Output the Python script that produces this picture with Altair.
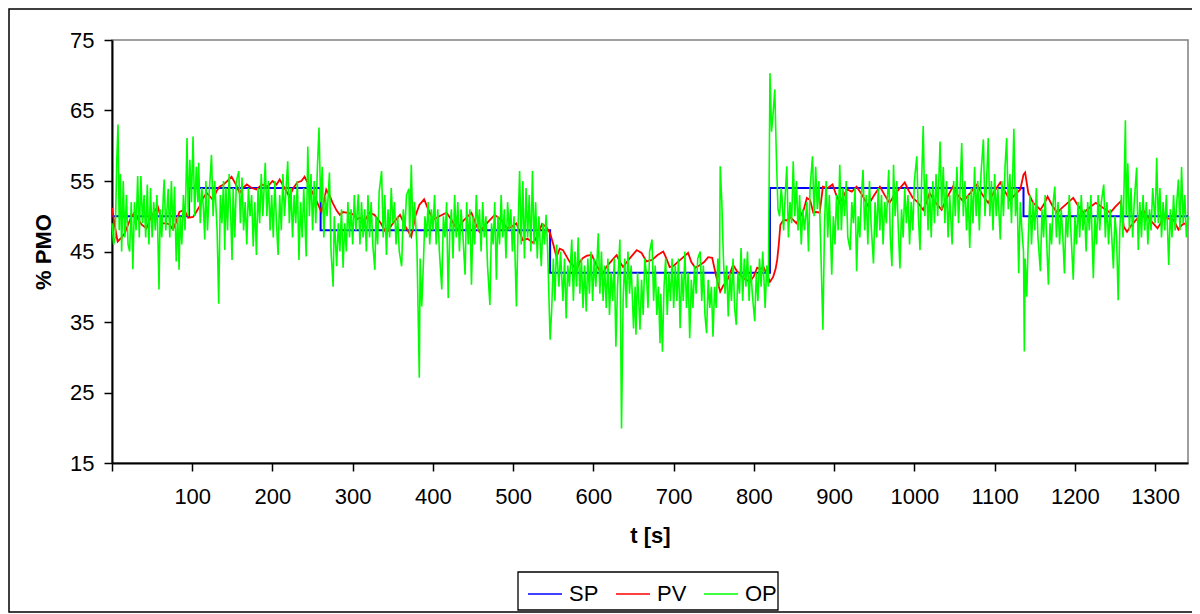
import altair as alt
import pandas as pd

# ---------------- data ----------------
sp_t = [0, 96, 260, 546, 820, 1136, 1341]
sp_v = [50, 54, 48, 42, 54, 50, 50]

pv_t = [0, 3, 7, 12, 16, 20, 24, 28, 33, 37, 43, 47, 52, 57, 63, 68, 72, 76, 80, 84,
        90, 95, 101, 105, 109, 113, 118, 122, 126, 130, 134, 139, 143, 149, 154, 159, 163, 168, 174, 180,
        187, 194, 200, 205, 209, 215, 221, 226, 231, 236, 240, 245, 250, 256, 261, 264, 267, 271, 275, 280,
        284, 288, 292, 300, 305, 309, 315, 321, 327, 335, 342, 350, 359, 366, 373, 378, 383, 389, 394, 400,
        408, 417, 423, 430, 438, 448, 453, 458, 467, 477, 485, 492, 498, 504, 508, 512, 518, 525, 530, 536,
        541, 546, 550, 554, 558, 562, 567, 571, 575, 579, 583, 587, 592, 598, 604, 611, 616, 622, 629, 633,
        637, 645, 654, 660, 666, 673, 680, 687, 691, 695, 700, 706, 712, 718, 722, 727, 732, 738, 743, 748,
        753, 758, 762, 766, 770, 774, 779, 785, 790, 795, 800, 804, 808, 812, 816, 820, 824, 827, 829, 831,
        833, 837, 841, 845, 849, 853, 858, 862, 866, 870, 874, 878, 882, 886, 892, 898, 902, 907, 911, 916,
        922, 928, 935, 942, 950, 957, 963, 969, 975, 982, 988, 993, 998, 1004, 1011, 1015, 1019, 1026, 1034, 1040,
        1048, 1054, 1061, 1069, 1078, 1085, 1092, 1099, 1107, 1113, 1119, 1125, 1132, 1136, 1138, 1142, 1148, 1152, 1157, 1162,
        1166, 1172, 1178, 1184, 1190, 1198, 1204, 1211, 1218, 1226, 1235, 1244, 1250, 1257, 1261, 1265, 1269, 1275, 1282, 1285,
        1290, 1296, 1303, 1307, 1310, 1316, 1323, 1329, 1331, 1336, 1341]
pv_v = [51.2, 49, 46.4, 47, 47.6, 48.8, 49.9, 50.5, 49.5, 48.8, 48.3, 49.5, 50.5, 51.4, 49, 49, 48.8, 48.1, 49.2, 50.6,
        50.9, 49.8, 49.9, 50.6, 51.4, 52.5, 53.3, 52.8, 52.3, 53.5, 54.2, 54.5, 54.9, 55.6, 54.6, 53.3, 54, 54.5, 54, 53.8,
        54.5, 54.2, 55, 54.5, 55.2, 54, 52.8, 54, 54.8, 55, 55.6, 54.5, 53.3, 51.9, 50.6, 52, 53.8, 53, 51.9, 50.8,
        50.2, 50.6, 50.5, 50.3, 49.6, 49.8, 49.4, 50.5, 50.2, 49, 47.6, 49, 50.2, 48.5, 47.1, 50, 51.6, 52.4, 51, 49.5,
        50, 50.5, 49.5, 48.1, 49.4, 50.5, 49, 47.8, 49, 50.2, 49.5, 48.3, 48.5, 49, 47.8, 46.6, 46.8, 46.2, 47.2, 48.9,
        48.5, 47.6, 46, 44.2, 45.4, 45.2, 44.2, 43.4, 43, 42.4, 43.5, 44.1, 44.4, 44.5, 43, 41.7, 42.8, 43.6, 44.5, 43.5,
        42.8, 44, 45.2, 44.8, 43.6, 43.8, 44.5, 45, 44, 42.8, 43, 43.6, 44.2, 44.8, 43.5, 42.7, 43, 43.5, 44.2, 44.1,
        41.5, 39.3, 40.2, 40.7, 41.8, 43.1, 42.2, 41.4, 41, 40.7, 41.5, 42.7, 42.5, 42.8, 41.8, 40.7, 41.4, 42.5, 43.8, 46,
        48.8, 49.5, 49.4, 49.9, 49.5, 49, 50, 50.9, 52.6, 52.3, 50.5, 50.6, 50.5, 54.2, 54, 54.5, 53.2, 51.9, 52.7, 53.8,
        53.5, 54.2, 53, 51.5, 53, 54.2, 53, 51.9, 53, 54, 54.8, 53.6, 52.6, 52, 50.9, 52, 53.3, 52, 50.9, 52.5,
        54.2, 53, 52.1, 53.2, 54.5, 53, 51.9, 53.4, 54.8, 53.5, 52.3, 53, 53.8, 55.9, 56.2, 53.3, 51.9, 51.5, 50.9, 51.8,
        52.8, 51.5, 50.5, 51.2, 51.8, 52.6, 51.5, 50.5, 51.2, 51.9, 51.2, 50.5, 51.3, 52.1, 48.5, 47.8, 48.5, 49.3, 50.2, 50.9,
        50, 49.2, 48.3, 49, 49.9, 49.7, 49.5, 48.1, 48.5, 49, 48.6]

op_t = [0, 2, 4, 6, 7.5, 9, 10.5, 12, 14, 16, 18, 20, 22, 24, 26, 28, 30, 32, 34, 36,
        38, 40, 42, 44, 46, 48, 50, 52, 54, 56, 58.6, 60, 62, 64, 65, 67, 70, 72, 74, 76,
        78, 80, 82, 83.6, 85, 87, 89, 91, 93.5, 95, 97, 99, 101, 103, 105, 107, 108, 110, 112, 114,
        115.6, 117, 119, 121, 124, 126, 128, 131, 133, 135, 137, 139, 140.5, 142, 144, 146, 148, 149.6, 151, 153,
        155, 158, 160, 162, 164, 166, 168, 170, 172, 174, 176, 178, 180, 182, 184, 186, 188, 191, 193, 195,
        197, 199, 201, 203, 205, 207, 209, 211, 213, 215, 217, 219, 221, 223, 225, 227, 229, 231, 233, 235,
        237, 239, 242, 244, 246, 248, 250, 252, 254, 256, 258, 260, 262, 264, 266, 268, 271, 273, 275.6, 277,
        280, 282, 284, 286, 288, 290, 292, 294, 296, 298, 300, 302, 304, 307, 309, 311, 313, 315, 317, 319,
        321, 323, 325, 327.6, 329, 331, 333, 336, 338, 340, 342, 344, 346, 348, 350, 352, 354, 356, 358, 361,
        363, 365, 367, 370, 371, 373, 375, 377, 380, 383, 384, 386, 388, 390, 392, 394, 396, 398, 400, 402,
        404, 406, 408, 411, 413, 415, 417, 419, 421, 423, 425, 427, 429, 431, 433, 435, 437, 440, 442, 444,
        446, 448, 450, 452, 454, 456, 458, 460, 462, 464, 466, 468, 471, 473, 475, 477, 479, 481, 483, 485,
        487, 489, 491, 493, 495, 497, 499, 501, 504, 506, 508, 510, 512, 514, 516, 518, 520, 522, 524, 526,
        528, 530, 532, 535, 537, 539, 541, 543, 546, 548, 550, 552, 554, 557, 559, 562, 564, 566, 568, 570,
        573, 575, 577, 579, 581, 583, 585, 587, 589, 591, 593, 595, 597, 599, 601, 603, 606, 608, 610, 612,
        614, 616, 618, 620, 622, 624, 626, 628, 630, 633, 635, 637, 639, 641, 643, 645, 647, 650, 652, 653,
        655, 658, 660, 662, 664, 666, 668, 670, 673, 675, 677, 679, 681, 683, 684, 686, 688, 690, 692, 694,
        696, 698, 700, 702, 704, 706, 708, 710, 712, 714, 716, 718, 720, 722, 724, 726, 728, 730, 733, 735,
        737, 739, 741, 743, 745, 747, 749, 751, 753, 755, 757, 758, 760, 762, 764, 766, 768, 770, 772, 774,
        776, 778, 780, 782, 784, 786, 788, 790, 792, 794, 796, 798, 801, 803, 805, 807, 809, 811, 814, 816,
        818, 820, 822, 824, 826, 828, 830, 832, 834, 835, 837, 839, 841, 843, 845, 847, 849, 851, 853, 855,
        857, 859, 861, 863, 866, 868, 870, 873, 875, 877, 879, 881, 883, 886, 888, 890, 892, 894, 897, 899,
        901, 903, 905, 907, 909, 911, 913, 915, 917, 920, 922, 924, 926, 928, 930, 932, 934, 936, 938, 940,
        942, 944, 946, 949, 951, 953, 955, 957, 959, 961, 963, 965, 968, 970, 972, 974, 976, 978, 980, 982,
        984, 986, 988, 990, 992, 994, 996, 998, 1000, 1003, 1005, 1007, 1009, 1011, 1013, 1015, 1017, 1019, 1021, 1023,
        1025, 1027, 1029, 1032, 1034, 1036, 1038, 1040, 1042, 1044, 1047, 1049, 1051, 1053, 1055, 1057, 1059, 1061, 1063, 1065,
        1067, 1069, 1071, 1073, 1075, 1077, 1079, 1081, 1083, 1086, 1088, 1090, 1092, 1094, 1096, 1098, 1100, 1102, 1104, 1107,
        1109, 1111, 1113, 1115, 1117, 1119, 1121, 1124, 1126, 1128, 1130, 1132, 1134, 1136, 1137, 1138, 1140, 1142, 1144, 1146,
        1148, 1150, 1152, 1154, 1157, 1159, 1161, 1163, 1165, 1167, 1169, 1171, 1173, 1175, 1177, 1179, 1181, 1183, 1185, 1187,
        1189, 1191, 1193, 1195, 1198, 1200, 1202, 1204, 1206, 1208, 1210, 1212, 1214, 1216, 1218, 1220, 1223, 1225, 1227, 1229,
        1231, 1233, 1236, 1238, 1240, 1242, 1244, 1246, 1248, 1250, 1252, 1254, 1256, 1258, 1260, 1263, 1264, 1266, 1268, 1270,
        1272, 1274, 1277, 1279, 1281, 1283, 1285, 1287, 1289, 1291, 1293, 1295, 1297, 1300, 1302, 1304, 1306, 1308, 1310, 1312,
        1314, 1317, 1319, 1321, 1323, 1325, 1327, 1329, 1331, 1333, 1335, 1337, 1339, 1341]
op_v = [49, 46, 47, 58, 63, 48, 56, 45, 55, 47, 53, 46, 45, 52, 42.5, 52, 48, 55.7, 47, 55.7,
        49, 53, 47, 54.5, 46, 54, 47, 52, 48, 53, 39.6, 51, 47, 53, 55.2, 48, 53.9, 47, 55, 48,
        54.2, 43.6, 50, 42.4, 50, 46, 53, 48, 61.1, 50, 58, 52, 61.3, 50, 57, 52, 57.6, 49, 54, 51,
        46.7, 55, 48, 53, 58.7, 50, 55, 48, 37.6, 53, 49, 55, 45.2, 54, 48, 56, 50, 43.8, 54, 47,
        55, 56.4, 49, 55.5, 48, 52, 46, 54, 50, 53, 45.7, 52, 44.5, 54, 49, 56, 50, 57.6, 50, 55,
        48, 53, 47, 55, 49, 44.5, 53, 48, 56, 50, 54, 57.8, 49, 54, 47, 53, 49, 55, 43.8, 52,
        47, 54, 44.3, 59.9, 50, 56, 48, 55, 49, 57, 62.6, 52, 57, 47, 53, 50, 56.2, 45, 40, 50,
        42.9, 49, 45, 51, 42.7, 49, 45, 52, 47, 51, 46, 53, 48, 53.1, 46, 52, 47, 51, 45, 53,
        47, 52, 46, 42.4, 50, 46, 53.5, 56.4, 47, 53, 44.5, 51, 47, 54, 49, 52, 46, 50, 45, 42.9,
        51, 48, 53, 53.9, 47, 57.3, 48, 52, 45.8, 27.1, 44, 37.2, 43, 50, 47, 52, 46, 51, 48, 53,
        46, 51, 45, 39.6, 50, 47, 52, 38.4, 48, 51, 44, 53, 47, 52, 45, 51, 48, 41.7, 52, 46,
        51, 40.3, 50, 46, 53, 48, 51, 45, 52, 47, 50, 43, 37.4, 49, 46, 52, 41, 50, 46, 53,
        47, 51, 44, 52, 48, 51, 45, 50, 37.2, 48, 56.4, 46, 55, 44, 54, 47, 53, 45, 56.4, 46,
        52, 44, 50, 42.9, 49, 46, 50.2, 45, 32.5, 36.8, 44, 38, 46, 40, 45, 38, 44, 35.5, 43, 40,
        46.7, 38, 45, 40, 47, 39, 44, 37, 43, 36.5, 44, 39, 45, 38, 44, 40, 47.6, 39, 45, 38,
        43, 37, 44, 36, 42, 38, 44, 31.5, 40, 46.7, 19.9, 38, 44, 37, 45, 39, 43, 34.1, 40, 33.2,
        42, 33.9, 41, 36, 44, 41.9, 37, 45, 46.7, 38, 43, 36, 40, 32, 39, 30.8, 40, 44, 36, 42,
        38, 44, 37, 43, 38, 44, 34.1, 42, 38, 45, 37, 42, 32.7, 41, 37, 43, 39, 44, 45, 38,
        43, 36, 33.4, 41, 37, 40, 32.9, 40, 37, 44, 40, 57.1, 52, 44, 39, 43, 35.8, 42, 38, 44,
        37, 34.6, 42, 39, 45.5, 38, 44, 40, 45, 38, 43, 39, 35.1, 42, 38, 44, 40, 45, 37, 43,
        40, 70.3, 62, 64.7, 68, 58.5, 51, 50, 54, 52.8, 48, 53, 57.1, 47, 52, 49, 57.8, 50, 55, 48,
        53, 46, 51, 48, 52, 45, 54, 58.5, 50, 57, 51, 55, 47, 33.9, 49, 55, 47, 53, 41.7, 50,
        46, 53, 48, 57.3, 48, 54, 50, 55, 47, 45.2, 52, 49, 54, 42.2, 50, 47, 53, 56.6, 48, 53,
        46, 55, 49, 43.3, 52, 47, 54, 48, 53, 46, 52, 49, 56.6, 47, 42.9, 57.3, 50, 55, 48, 42.6,
        51, 47, 54, 49, 53, 46, 52, 48, 55, 58.5, 50, 45.2, 55, 62.8, 50, 56, 48, 54, 47, 55,
        49, 56, 50, 60.6, 51, 57, 49, 55, 47, 53, 46, 55, 50, 57, 49, 54, 60.4, 50, 55, 48,
        53, 45.5, 54, 49, 57, 50, 55, 48, 56, 60.9, 50, 55, 61.1, 50, 55, 48, 56, 50, 54, 46.7,
        55, 50, 57, 61.1, 51, 56, 49, 62.4, 50, 54, 41.9, 52, 48, 45, 30.8, 44, 38.6, 47, 53, 46,
        52, 48, 54, 47, 42.2, 51, 47, 53, 46, 40.3, 49, 46, 52, 54.2, 47, 52, 46, 51, 47, 41.9,
        50, 47, 53, 48, 41, 50, 46, 52, 47, 53, 48, 51, 45, 52, 48, 53, 41.2, 50, 46, 53,
        48, 52, 54.5, 47, 52, 46, 51, 47, 42.6, 50, 47, 38.1, 48, 53, 47, 63.6, 50, 57.5, 48, 54,
        47, 52, 56.9, 45.2, 52, 47, 53, 48, 52, 46, 51, 48, 54, 49, 58.3, 49, 54, 47, 52, 48,
        53, 43.1, 51, 47, 53, 48, 52, 55.2, 48, 57, 49, 53, 47, 50]

x_ticks = list(range(0, 1301, 100))
y_ticks = list(range(15, 76, 10))
series = ["SP", "PV", "OP"]
colors = ["#0000FF", "#FF0000", "#00FF00"]

FONT = "Liberation Sans"

sp_df = pd.DataFrame({"t": sp_t, "v": sp_v, "s": "SP"})
pv_df = pd.DataFrame({"t": pv_t, "v": pv_v, "s": "PV"})
op_df = pd.DataFrame({"t": op_t, "v": op_v, "s": "OP"})

x_enc = alt.X("t:Q", scale=alt.Scale(domain=[0, 1341], nice=False, zero=False),
              axis=alt.Axis(values=x_ticks, title="t [s]", format="d",
                            labelExpr="datum.value == 0 ? '' : datum.label"))
y_enc = alt.Y("v:Q", scale=alt.Scale(domain=[15, 75], nice=False, zero=False),
              axis=alt.Axis(values=y_ticks, title="% PMO", format="d"))
color_scale = alt.Scale(domain=series, range=colors)
legend = alt.Legend(orient="none", legendX=415, legendY=536, direction="horizontal",
                    title=None, symbolType="stroke", symbolSize=1156, symbolStrokeWidth=1.5,
                    labelFontSize=22, labelFont=FONT, labelColor="black", labelOffset=6,
                    columnPadding=14, padding=0)
color_enc = alt.Color("s:N", scale=color_scale, legend=legend, sort=series)

sp_line = alt.Chart(sp_df).mark_line(interpolate="step-after", strokeWidth=2).encode(
    x=x_enc, y=y_enc, color=color_enc)
pv_line = alt.Chart(pv_df).mark_line(strokeWidth=1.8).encode(
    x="t:Q", y="v:Q", color=color_enc)
op_line = alt.Chart(op_df).mark_line(strokeWidth=1.6).encode(
    x="t:Q", y="v:Q", color=color_enc)

one = pd.DataFrame({"k": [0]})
legend_box = alt.Chart(one).mark_rect(fillOpacity=0, stroke="black", strokeWidth=1.3, clip=False).encode(
    x=alt.value(406), x2=alt.value(666), y=alt.value(532), y2=alt.value(570))
outer_box = alt.Chart(one).mark_rect(fillOpacity=0, stroke="black", strokeWidth=1.5, clip=False).encode(
    x=alt.value(-103), x2=alt.value(1087), y=alt.value(-31), y2=alt.value(572))

chart = alt.layer(sp_line, pv_line, op_line, legend_box, outer_box).properties(
    width=1076, height=423,
    padding={"left": 104, "top": 32, "right": 4, "bottom": 150},
    autosize=alt.AutoSizeParams(type="none"),
).configure_view(
    stroke="#808080", strokeWidth=1.5
).configure_axis(
    grid=False, domainColor="black", domainWidth=2, tickColor="black", tickWidth=1.5,
    tickSize=8, labelFont=FONT, labelFontSize=22, labelColor="black", labelPadding=10,
    titleFont=FONT, titleFontSize=22, titleFontWeight="bold", titleColor="black"
).configure_axisX(titlePadding=18, labelPadding=15).configure_axisY(titlePadding=14)

chart.save("out.html", embed_options={"renderer": "svg", "actions": False})
